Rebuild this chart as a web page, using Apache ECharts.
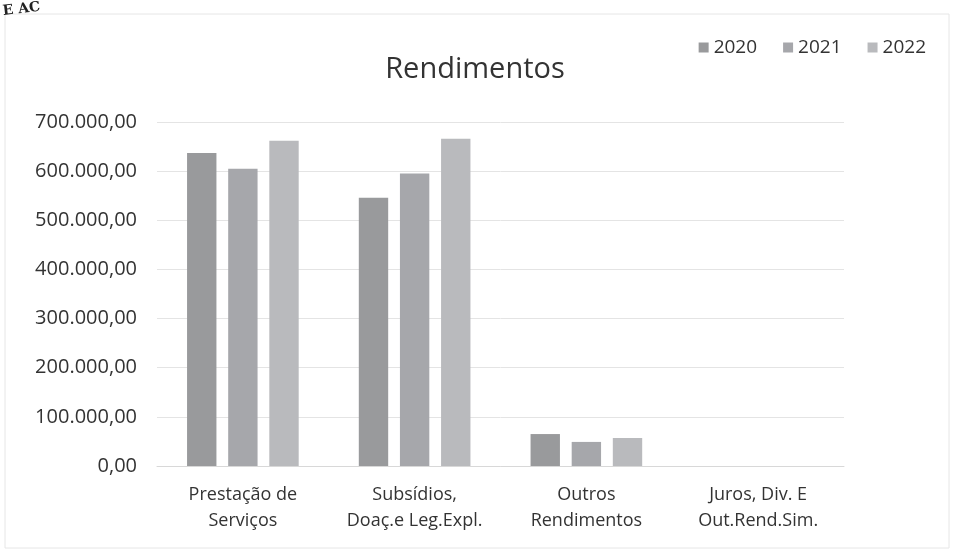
<!DOCTYPE html>
<html><head><meta charset="utf-8">
<script src="https://cdn.jsdelivr.net/npm/echarts@6/dist/echarts.min.js"></script>
<style>html,body{margin:0;padding:0;background:#fff}#c{width:955px;height:557px}</style>
</head><body><div id="c"></div>
<script>
const categories = ['Prestação de\nServiços', 'Subsídios,\nDoaç.e Leg.Expl.', 'Outros\nRendimentos', 'Juros, Div. E\nOut.Rend.Sim.'];
const years = ['2020', '2021', '2022'];
const values2020 = [637000, 546000, 65000, 0];
const values2021 = [605000, 595000, 49000, 0];
const values2022 = [662000, 666000, 57000, 0];
const yTicks = [0, 100000, 200000, 300000, 400000, 500000, 600000, 700000];
const colors = ['#999a9c', '#a6a7ab', '#b9babd'];

function fmt(v){
  const s = Math.round(v).toString().replace(/\B(?=(\d{3})+(?!\d))/g, '.');
  return s + ',00';
}
const chart = echarts.init(document.getElementById('c'));
const series = [values2020, values2021, values2022].map((d, i) => ({
  name: years[i], type: 'bar', data: d, barGap: '40%', barCategoryGap: '35%',
  itemStyle: { color: colors[i] }
}));
chart.setOption({
  animation: false,
  textStyle: { fontFamily: 'Open Sans' },
  title: { text: 'Rendimentos', left: 470, top: 50, textAlign: 'center',
    textStyle: { fontFamily: 'Open Sans', fontSize: 29, fontWeight: 'normal', color: '#333' } },
  legend: { top: 33, right: 24, itemWidth: 10, itemHeight: 10, itemGap: 26, icon: 'rect',
    textStyle: { fontSize: 19, color: '#333', fontFamily: 'Open Sans' } },
  grid: { left: 157, right: 111, top: 122, bottom: 91 },
  xAxis: { type: 'category', data: categories,
    axisLine: { lineStyle: { color: '#d8d8d8' } }, axisTick: { show: false },
    axisLabel: { interval: 0, fontSize: 18, color: '#333', lineHeight: 26, margin: 16 } },
  yAxis: { type: 'value', min: yTicks[0], max: yTicks[yTicks.length-1], interval: 100000,
    axisLine: { show: false }, axisTick: { show: false },
    splitLine: { lineStyle: { color: '#e4e4e4' } },
    axisLabel: { fontSize: 20, color: '#333', margin: 20, formatter: fmt } },
  series: series,
  graphic: [
    { type: 'rect', shape: { x: 5, y: 14, width: 944, height: 534 }, style: { fill: 'none', stroke: '#e6e6e6', lineWidth: 1 } },
    { type: 'text', left: 2, top: 0, rotation: 0.12, style: { text: 'E AC', font: 'bold 14px "DejaVu Serif"', fill: '#222' } }
  ]
});
</script></body></html>
